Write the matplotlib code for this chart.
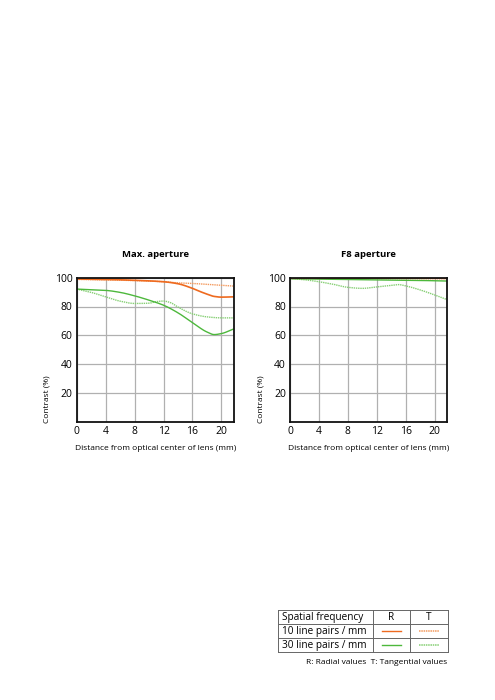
import matplotlib
matplotlib.use("Agg")
import matplotlib.pyplot as plt
import numpy as np

plt.rcParams['font.family'] = ['Open Sans', 'DejaVu Sans']

# ---- data ----
x_ticks = [0, 4, 8, 12, 16, 20]
y_ticks = [20, 40, 60, 80, 100]

# Max. aperture
max_x10r = [0, 4, 8, 12, 14, 16, 17, 18, 19, 20, 21.6]
max_y10r = [99.1, 98.8, 98.2, 97.2, 95.8, 92.6, 90.5, 88.6, 87.0, 86.5, 86.7]
max_x10t = [0, 4, 8, 12, 14, 16, 18, 20, 21.6]
max_y10t = [98.8, 98.5, 98.0, 97.2, 96.4, 96.0, 95.4, 94.8, 94.2]
max_x30r = [0, 4, 6, 8, 10, 12, 14, 16, 18, 19, 20, 21.6]
max_y30r = [92.1, 91.2, 89.8, 87.4, 84.4, 80.9, 75.6, 68.8, 62.3, 60.5, 61.2, 64.2]
max_x30t = [0, 2, 4, 6, 8, 10, 11, 12, 13, 14, 16, 18, 20, 21.6]
max_y30t = [92.1, 89.8, 86.7, 83.7, 82.1, 82.3, 83.4, 83.8, 82.6, 79.6, 74.9, 72.8, 72.1, 72.1]

# F8 aperture
f8_x10r = [0, 8, 16, 21.6]
f8_y10r = [99.8, 99.8, 99.8, 99.7]
f8_x10t = [0, 8, 16, 21.6]
f8_y10t = [99.4, 99.3, 99.3, 99.2]
f8_x30r = [0, 4, 8, 12, 16, 20, 21.6]
f8_y30r = [99.3, 99.0, 98.7, 98.4, 98.2, 97.9, 97.7]
f8_x30t = [0, 2, 4, 6, 8, 10, 12, 14, 15, 16, 18, 20, 21.6]
f8_y30t = [99.5, 98.6, 97.2, 95.4, 93.3, 92.6, 93.6, 94.7, 95.2, 94.3, 91.5, 88.0, 85.0]

titles = ["Max. aperture", "F8 aperture"]
xlabel = "Distance from optical center of lens (mm)"
ylabel = "Contrast (%)"
table_rows = ["Spatial frequency", "10 line pairs / mm", "30 line pairs / mm"]
table_cols = ["R", "T"]
footnote = "R: Radial values  T: Tangential values"

C10R = "#EE6A1F"
C10T = "#F39A5E"
C30R = "#4DB83C"
C30T = "#86CF74"

W, H = 495, 700
fig = plt.figure(figsize=(W / 100, H / 100), dpi=100)

def smooth(xs, ys, n=200):
    xs = np.asarray(xs, float); ys = np.asarray(ys, float)
    # monotone cubic (PCHIP-like) interpolation for smooth drawing
    h = np.diff(xs); d = np.diff(ys) / h
    m = np.zeros_like(ys)
    for i in range(1, len(xs) - 1):
        if d[i - 1] * d[i] > 0:
            w1 = 2 * h[i] + h[i - 1]; w2 = h[i] + 2 * h[i - 1]
            m[i] = (w1 + w2) / (w1 / d[i - 1] + w2 / d[i])
    m[0] = d[0]; m[-1] = d[-1]
    xx = np.linspace(xs[0], xs[-1], n)
    idx = np.clip(np.searchsorted(xs, xx) - 1, 0, len(xs) - 2)
    t = (xx - xs[idx]) / h[idx]
    h00 = 2 * t**3 - 3 * t**2 + 1; h10 = t**3 - 2 * t**2 + t
    h01 = -2 * t**3 + 3 * t**2; h11 = t**3 - t**2
    yy = h00 * ys[idx] + h10 * h[idx] * m[idx] + h01 * ys[idx + 1] + h11 * h[idx] * m[idx + 1]
    return xx, yy

DOT = (0, (1, 0.6))

def make_ax(left_px, title, series):
    ax = fig.add_axes([left_px / W, 1 - 421.7 / H, 157 / W, 144 / H])
    ax.set_xlim(0, 21.7)
    ax.set_ylim(0, 100)
    ax.set_xticks(x_ticks)
    ax.set_yticks(y_ticks)
    ax.tick_params(length=0, labelsize=7.5, pad=3)
    ax.grid(True, color="#b0b0b0", lw=0.9)
    ax.set_axisbelow(True)
    for s in ax.spines.values():
        s.set_linewidth(1.3)
        s.set_color("#111111")
    for xs, ys, c, ls, lw in series:
        xx, yy = smooth(xs, ys)
        ax.plot(xx, yy, color=c, ls=ls, lw=lw, clip_on=True)
    ax.set_title(title, fontsize=6.8, fontweight="bold", pad=15)
    ax.set_xlabel(xlabel, fontsize=6.0, labelpad=6)
    ax.set_ylabel(ylabel, fontsize=6.0)
    ax.yaxis.set_label_coords(-0.165, 0.155)
    return ax

make_ax(76.7, titles[0], [
    (max_x30t, max_y30t, C30T, DOT, 1.0),
    (max_x10t, max_y10t, C10T, DOT, 1.0),
    (max_x30r, max_y30r, C30R, "-", 1.0),
    (max_x10r, max_y10r, C10R, "-", 1.2),
])
make_ax(290, titles[1], [
    (f8_x30t, f8_y30t, C30T, DOT, 1.0),
    (f8_x10t, f8_y10t, C10T, DOT, 1.0),
    (f8_x30r, f8_y30r, C30R, "-", 1.0),
    (f8_x10r, f8_y10r, C10R, "-", 1.2),
])

# ---- legend table in pixel coordinates ----
ov = fig.add_axes([0, 0, 1, 1])
ov.set_xlim(0, W); ov.set_ylim(H, 0); ov.axis("off")
L, C1, C2, R = 277.5, 372.7, 410.0, 447.5
T, R1, R2, B = 610.0, 624.3, 638.3, 652.0
lc = "#666666"
for y in (T, R1, R2, B):
    ov.plot([L, R], [y, y], color=lc, lw=0.7)
for x in (L, C1, C2, R):
    ov.plot([x, x], [T, B], color=lc, lw=0.7)
fs = 7.2
ov.text(L + 4, (T + R1) / 2, table_rows[0], fontsize=fs, va="center", ha="left")
ov.text(L + 4, (R1 + R2) / 2, table_rows[1], fontsize=fs, va="center", ha="left")
ov.text(L + 4, (R2 + B) / 2, table_rows[2], fontsize=fs, va="center", ha="left")
ov.text((C1 + C2) / 2, (T + R1) / 2, table_cols[0], fontsize=fs, va="center", ha="center")
ov.text((C2 + R) / 2, (T + R1) / 2, table_cols[1], fontsize=fs, va="center", ha="center")
for yc, cr, ct in (((R1 + R2) / 2, C10R, C10T), ((R2 + B) / 2, C30R, C30T)):
    ov.plot([C1 + 9, C2 - 9], [yc, yc], color=cr, lw=1.0)
    ov.plot([C2 + 9, R - 9], [yc, yc], color=ct, lw=1.1, ls=(0, (1, 0.5)))
ov.text(R, 662, footnote, fontsize=6.0, ha="right", va="center")

fig.savefig("out.png", dpi=100)
